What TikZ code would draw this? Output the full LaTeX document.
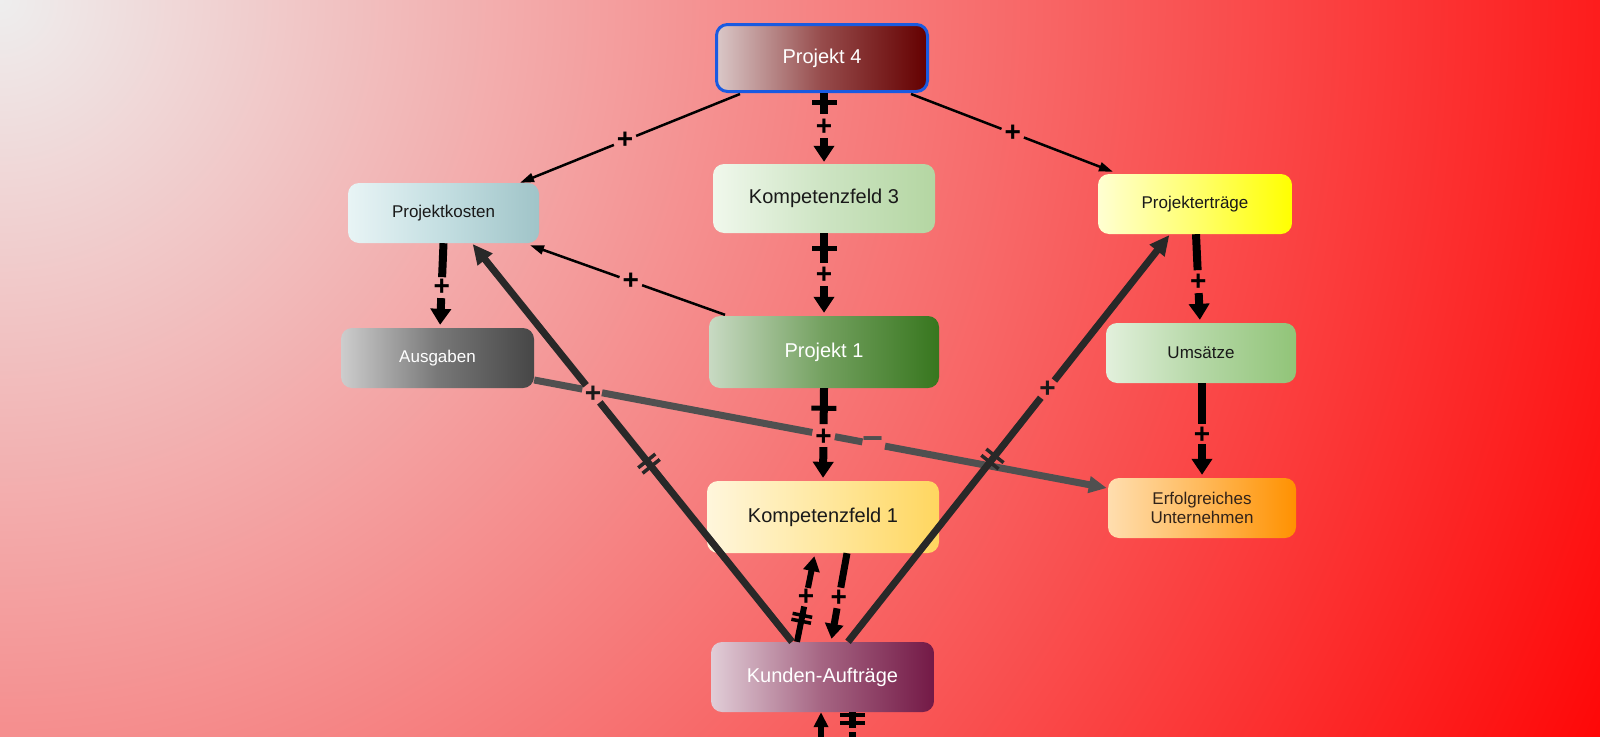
\documentclass[tikz,border=0pt]{standalone}
\usepackage{fontspec}
\setmainfont{Liberation Sans}
\usetikzlibrary{calc,arrows.meta}
\definecolor{bgA}{RGB}{238,238,238}
\definecolor{bgB}{RGB}{255,0,0}
\pgfdeclareradialshading{bgrad}{\pgfpointorigin}{color(0bp)=(bgA); color(25bp)=(bgB); color(50bp)=(bgB)}
\definecolor{txtdark}{RGB}{25,25,25}
\definecolor{linedark}{RGB}{40,40,40}
\definecolor{linegray}{RGB}{80,80,80}
\definecolor{p4border}{RGB}{25,90,225}
\newcommand\seg[5]{\draw[#1] ($(#2)!#4pt!(#3)$) -- ($(#2)!#5pt!(#3)$);}
\newcommand\segend[4]{\draw[#1] ($(#2)!#4pt!(#3)$) -- (#3);}
\newcommand\xbar[5]{\coordinate (tmpx) at ($(#2)!#4pt!(#3)$);
  \draw[#1] ($(tmpx)!#5pt!90:(#3)$) -- ($(tmpx)!#5pt!-90:(#3)$);}
\begin{document}
\begin{tikzpicture}[x=1pt,y=-1pt,
  box/.style={rounded corners=11pt, inner sep=0pt, align=center},
  bigfont/.style={font=\fontsize{20}{24}\selectfont},
  smallfont/.style={font=\fontsize{17}{19.5}\selectfont},
  lbl/.style={font=\fontsize{28}{28}\selectfont\bfseries, inner sep=0pt},
  minuslbl/.style={font=\fontsize{36}{36}\selectfont\bfseries, inner sep=0pt},
  blk/.style={line width=8pt, draw=black},
  blkarr/.style={blk, -{Triangle[length=16pt,width=20pt]}, shorten >=2pt},
  midblk/.style={line width=7pt, draw=black},
  midblkarr/.style={midblk, -{Triangle[length=15pt,width=18pt]}, shorten >=3pt},
  dk/.style={line width=7pt, draw=linedark},
  dkarr/.style={dk, -{Triangle[length=20pt,width=18pt]}, shorten >=1pt},
  gr/.style={line width=7pt, draw=linegray},
  grarr/.style={gr, -{Triangle[length=18pt,width=16pt]}},
  thin/.style={line width=2.5pt, draw=black},
  thinarr/.style={thin, -{Triangle[length=14pt,width=9pt]}},
  barblk/.style={line width=5pt, draw=black},
  dbarblk/.style={line width=3.5pt, draw=black},
  dbardk/.style={line width=3.5pt, draw=linedark},
]
\useasboundingbox (0,0) rectangle (1600,736);
\begin{scope}
  \clip (0,0) rectangle (1600,736);
  \shade[shading=bgrad] (-1818,-1818) rectangle (1818,1818);
\end{scope}

% nodes
\node[box, bigfont, text=white, minimum width=211pt, minimum height=67pt,
  draw=p4border, line width=3pt,
  left color={rgb,255:red,218;green,200;blue,200}, right color={rgb,255:red,100;green,0;blue,0},
  middle color={rgb,255:red,150;green,75;blue,75}] (p4) at (822,58) {Projekt 4};
\node[box, bigfont, text=txtdark, minimum width=222pt, minimum height=69pt,
  left color={rgb,255:red,240;green,248;blue,236}, right color={rgb,255:red,180;green,214;blue,162},
  middle color={rgb,255:red,205;green,228;blue,195}] (kf3) at (824,198.5) {Kompetenzfeld 3};
\node[box, bigfont, text=white, minimum width=230pt, minimum height=72pt,
  left color={rgb,255:red,200;green,218;blue,195}, right color={rgb,255:red,55;green,118;blue,30},
  middle color={rgb,255:red,115;green,160;blue,95}] (p1) at (824,352) {Projekt 1};
\node[box, bigfont, text=txtdark, minimum width=232pt, minimum height=72pt,
  left color={rgb,255:red,255;green,246;blue,220}, right color={rgb,255:red,255;green,214;blue,95},
  middle color={rgb,255:red,255;green,232;blue,160}] (kf1) at (823,517) {Kompetenzfeld 1};
\node[box, bigfont, text=white, minimum width=223pt, minimum height=70pt,
  left color={rgb,255:red,225;green,205;blue,215}, right color={rgb,255:red,115;green,25;blue,70},
  middle color={rgb,255:red,165;green,100;blue,130}] (ku) at (822.5,677) {Kunden-Aufträge};
\node[box, smallfont, text=txtdark, minimum width=191pt, minimum height=60pt,
  left color={rgb,255:red,232;green,244;blue,245}, right color={rgb,255:red,160;green,196;blue,200},
  middle color={rgb,255:red,195;green,222;blue,225}] (pk) at (443.5,213) {Projektkosten};
\node[box, smallfont, text=white, minimum width=193pt, minimum height=60pt,
  left color={rgb,255:red,205;green,205;blue,205}, right color={rgb,255:red,70;green,70;blue,70},
  middle color={rgb,255:red,120;green,120;blue,120}] (au) at (437.5,358) {Ausgaben};
\node[box, smallfont, text=txtdark, minimum width=194pt, minimum height=60pt,
  left color={rgb,255:red,255;green,255;blue,210}, right color={rgb,255:red,255;green,255;blue,0},
  middle color={rgb,255:red,255;green,255;blue,110}] (pe) at (1195,204) {Projekterträge};
\node[box, smallfont, text=txtdark, minimum width=190pt, minimum height=60pt,
  left color={rgb,255:red,226;green,240;blue,220}, right color={rgb,255:red,145;green,196;blue,120},
  middle color={rgb,255:red,180;green,215;blue,165}] (um) at (1201,353) {Umsätze};
\node[box, smallfont, text={rgb,255:red,50;green,35;blue,25}, minimum width=188pt, minimum height=60pt,
  left color={rgb,255:red,255;green,222;blue,175}, right color={rgb,255:red,255;green,145;blue,0},
  middle color={rgb,255:red,255;green,185;blue,90}] (eu) at (1202,508) {Erfolgreiches\\Unternehmen};

% connector end points
\coordinate (Cs) at (kf3.north |- p4.south);
\coordinate (Ce) at (kf3.north);
\coordinate (Ds) at (kf3.south);
\coordinate (De) at (p1.north);
\coordinate (Es) at (p1.south);
\coordinate (Ee) at (kf1.north);
\coordinate (Gs) at (pk.south);
\coordinate (Ge) at ($(au.north)+(2.5,0)$);
\coordinate (Hs) at ($(pe.south)+(1,0)$);
\coordinate (He) at ($(um.north)+(-1,0)$);
\coordinate (Is) at ($(um.south)+(1,0)$);
\coordinate (Ie) at ($(eu.north)$);
\coordinate (Js) at ($(kf1.south)+(24,0)$);
\coordinate (Je) at ($(ku.north)+(8.5,0)$);
\coordinate (Ks) at ($(ku.north)+(-25.5,0)$);
\coordinate (Ke) at ($(kf1.south)+(-8,0)$);
\coordinate (Ls) at ($(ku.north)+(-30.5,0)$);
\coordinate (Le) at ($(pk.south)+(28.5,0)$);
\coordinate (Ms) at ($(ku.north)+(25.5,0)$);
\coordinate (Me) at ($(pe.south)+(-25,0)$);
\coordinate (Ns) at ($(au.east)+(0,22)$);
\coordinate (Ne) at ($(eu.west)+(-1,-20)$);
\coordinate (As) at ($(p4.south)+(-82,1)$);
\coordinate (Ae) at ($(pk.north)+(76.5,0)$);
\coordinate (Bs) at ($(p4.south)+(89,1)$);
\coordinate (Be) at ($(pe.north)+(-82,-2)$);
\coordinate (Fs) at ($(p1.north)+(-99,-1)$);
\coordinate (Fe) at ($(pk.south)+(86.5,2)$);
\coordinate (Os) at ($(ku.south)+(29.5,0)$);
\coordinate (offR) at (852,800);
\coordinate (Oe) at ($(ku.south)+(-1.5,0)$);
\coordinate (offL) at (821,800);

% gray line Ausgaben -> Erfolgreiches Unternehmen
\seg{gr}{Ns}{Ne}{0}{49}
\seg{gr}{Ns}{Ne}{69}{283}
\seg{gr}{Ns}{Ne}{306}{334}
\segend{grarr}{Ns}{Ne}{357}
\node[minuslbl, text=linegray] (lN) at ($(Ns)!345pt!(Ne)$) {−};

% thin arrows
\seg{thin}{As}{Ae}{0}{112}
\segend{thinarr}{As}{Ae}{136}
\node[lbl] (lA) at ($(As)!124pt!(Ae)$) {+};
\seg{thin}{Bs}{Be}{0}{97}
\segend{thinarr}{Bs}{Be}{121}
\node[lbl] (lB) at ($(Bs)!109pt!(Be)$) {+};
\seg{thin}{Fs}{Fe}{0}{88}
\segend{thinarr}{Fs}{Fe}{112}
\node[lbl] (lF) at ($(Fs)!100pt!(Fe)$) {+};

% thick vertical arrows
\seg{blk}{Cs}{Ce}{0}{21}
\xbar{barblk}{Cs}{Ce}{9}{12.5}
\node[lbl] (lC) at ($(Cs)!34pt!(Ce)$) {+};
\segend{blkarr}{Cs}{Ce}{45}

\seg{blk}{Ds}{De}{0}{30}
\xbar{barblk}{Ds}{De}{15}{12.5}
\node[lbl] (lD) at ($(Ds)!42pt!(De)$) {+};
\segend{blkarr,shorten >=3pt}{Ds}{De}{53}

\seg{blk}{Es}{Ee}{0}{36}
\xbar{barblk}{Es}{Ee}{20}{12.5}
\node[lbl] (lE) at ($(Es)!49pt!(Ee)$) {+};
\segend{blkarr,shorten >=3pt}{Es}{Ee}{59}

\seg{blk}{Gs}{Ge}{0}{34}
\node[lbl] (lG) at ($(Gs)!44pt!(Ge)$) {+};
\segend{blkarr,shorten >=3pt}{Gs}{Ge}{55}

\seg{blk}{Hs}{He}{0}{36}
\node[lbl] (lH) at ($(Hs)!48pt!(He)$) {+};
\segend{blkarr,shorten >=3pt}{Hs}{He}{59}

\seg{blk}{Is}{Ie}{0}{41}
\node[lbl] (lI) at ($(Is)!52pt!(Ie)$) {+};
\segend{blkarr,shorten >=3pt}{Is}{Ie}{61}

% Kompetenzfeld 1 <-> Kunden-Auftraege
\seg{midblk}{Js}{Je}{0}{35}
\node[lbl] (lJ) at ($(Js)!46pt!(Je)$) {+};
\segend{midblkarr}{Js}{Je}{56}

\seg{midblk, line width=6pt}{Ks}{Ke}{0}{36}
\xbar{dbarblk}{Ks}{Ke}{21}{10}
\xbar{dbarblk}{Ks}{Ke}{27}{10}
\node[lbl] (lK) at ($(Ks)!45pt!(Ke)$) {+};
\segend{midblkarr, line width=6pt, -{Triangle[length=15pt,width=16pt]}}{Ks}{Ke}{55}

% long dark diagonal arrows
\seg{dk}{Ls}{Le}{0}{307}
\xbar{dbardk}{Ls}{Le}{225}{11}
\xbar{dbardk}{Ls}{Le}{232}{11}
\node[lbl, text=txtdark] (lL) at ($(Ls)!318pt!(Le)$) {+};
\segend{dkarr}{Ls}{Le}{329}

\seg{dk}{Ms}{Me}{0}{311}
\xbar{dbardk}{Ms}{Me}{229}{11}
\xbar{dbardk}{Ms}{Me}{237}{11}
\node[lbl, text=txtdark] (lM) at ($(Ms)!322pt!(Me)$) {+};
\segend{dkarr}{Ms}{Me}{333}

% connectors leaving the picture at the bottom
\draw[line width=6pt, draw=black, -{Triangle[length=15pt,width=14pt]}] (offL) -- (Oe);
\seg{blk, line width=7pt}{Os}{offR}{0}{16}
\xbar{line width=4pt, draw=black}{Os}{offR}{3}{12.5}
\xbar{line width=4pt, draw=black}{Os}{offR}{11}{12.5}
\draw[line width=7pt, draw=black] ($(Os)!20pt!(offR)$) -- (offR);
\end{tikzpicture}
\end{document}
